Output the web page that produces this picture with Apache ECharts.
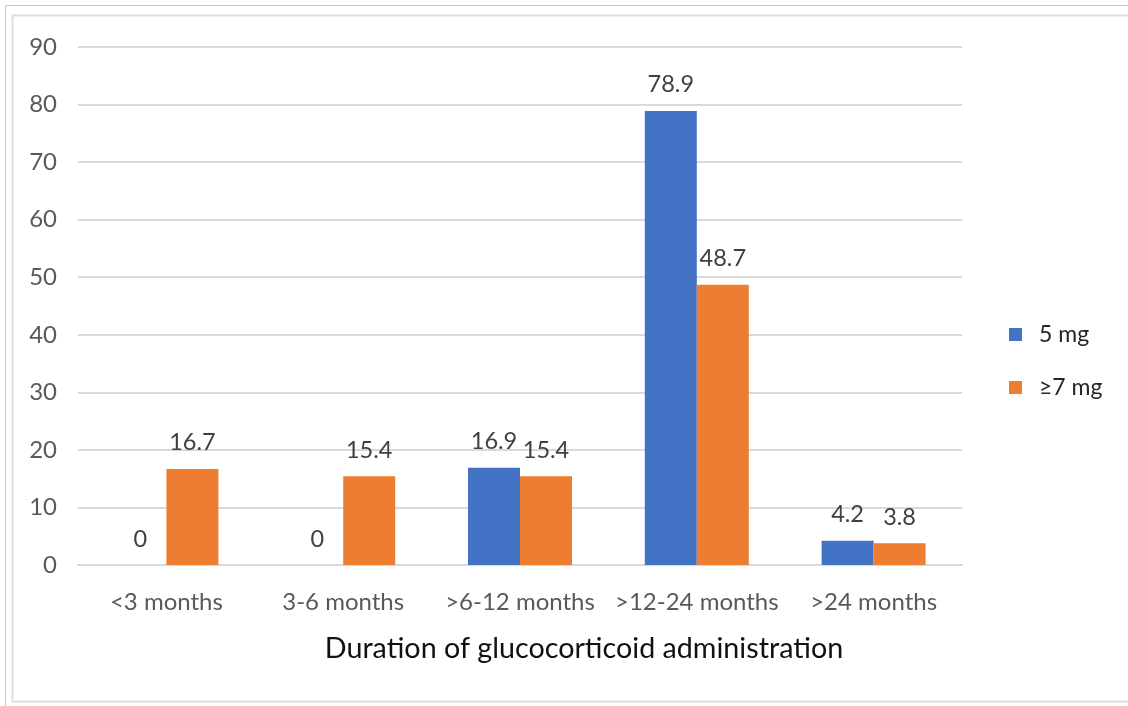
<!DOCTYPE html>
<html><head><meta charset="utf-8">
<script src="https://cdn.jsdelivr.net/npm/echarts@6/dist/echarts.min.js"></script>
<style>html,body{margin:0;padding:0;background:#fff}#c{width:1128px;height:706px}</style>
</head><body><div id="c"></div>
<script>
const categories = ['<3 months', '3-6 months', '>6-12 months', '>12-24 months', '>24 months'];
const series5mg = [0, 0, 16.9, 78.9, 4.2];
const series7mg = [16.7, 15.4, 15.4, 48.7, 3.8];
const seriesNames = ['5 mg', '≥7 mg'];
const xTitle = 'Duration of glucocorticoid administration';

const FONT = 'Lato, "Open Sans", sans-serif';
const chart = echarts.init(document.getElementById('c'), null, {renderer: 'canvas'});
const labelStyle = {show: true, position: 'top', distance: 14, color: '#404040', fontSize: 23.5, fontFamily: FONT};
chart.setOption({
  animation: false,
  backgroundColor: '#fff',
  graphic: [
    {type: 'rect', shape: {x: 5.5, y: 5.5, width: 1140, height: 710}, style: {fill: 'none', stroke: '#c8c8c8', lineWidth: 1}, z: -10},
    {type: 'rect', shape: {x: 12.5, y: 15.5, width: 1140, height: 686}, style: {fill: 'none', stroke: '#dedede', lineWidth: 2}, z: -10}
  ],
  grid: {left: 78, right: 166, top: 47, bottom: 141, containLabel: false},
  legend: {
    orient: 'vertical', left: 1004, top: 318, itemWidth: 13, itemHeight: 13, itemGap: 30,
    icon: 'rect',
    textStyle: {fontSize: 23, color: '#262626', fontFamily: FONT, padding: [0, 0, 0, 12]},
    data: seriesNames
  },
  xAxis: {
    type: 'category', data: categories,
    axisLine: {lineStyle: {color: '#d9d9d9', width: 2}},
    axisTick: {show: false},
    axisLabel: {color: '#595959', fontSize: 24, fontFamily: FONT, margin: 25, interval: 0},
    name: xTitle, nameLocation: 'middle', nameGap: 69,
    nameTextStyle: {color: '#111', fontSize: 28.7, fontFamily: FONT, padding: [0, 0, 0, 128]}
  },
  yAxis: {
    type: 'value', min: 0, max: 90, interval: 10,
    axisLine: {show: false}, axisTick: {show: false},
    axisLabel: {color: '#595959', fontSize: 24, fontFamily: FONT, margin: 21},
    splitLine: {lineStyle: {color: '#d9d9d9', width: 2}}
  },
  series: [
    {name: seriesNames[0], type: 'bar', data: series5mg, barWidth: 52, barGap: '0%', itemStyle: {color: '#4472c4'}, label: labelStyle},
    {name: seriesNames[1], type: 'bar', data: series7mg, barWidth: 52, itemStyle: {color: '#ed7d31'}, label: labelStyle}
  ]
});
</script></body></html>
